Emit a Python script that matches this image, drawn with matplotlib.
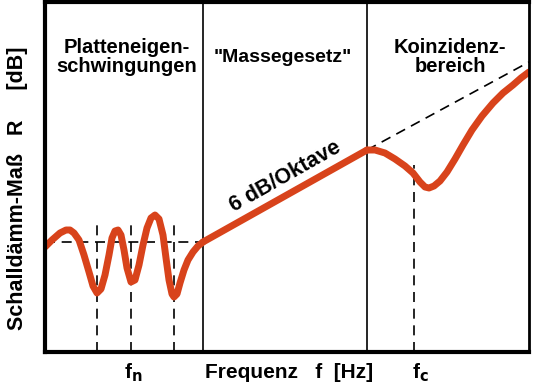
import matplotlib
matplotlib.use('Agg')
import matplotlib.pyplot as plt

plt.rcParams['font.family'] = ['Liberation Sans', 'DejaVu Sans']
plt.rcParams['font.weight'] = 'bold'

# curve points (x: frequency, y: level, arbitrary units)
plate_x = [0, 7, 15, 21, 25, 29, 34, 39, 44, 48, 52, 56, 60, 64, 67, 70, 73, 76, 79, 82,
           86, 90, 94, 98, 102, 106, 110, 114, 118, 121, 124, 127, 129, 132, 135, 139,
           143, 148, 153, 158]
plate_y = [105, 112, 119, 122, 122, 119, 112, 97, 80, 66, 59, 63, 77, 97, 114, 121,
           122, 117, 102, 84, 70, 72, 87, 107, 124, 134, 137, 133, 117, 94, 72, 58,
           55, 58, 69, 82, 92, 100, 106, 110]
mass_x = [158, 322]
mass_y = [110, 202]
coinc_x = [322, 330, 340, 350, 360, 368, 375, 380, 384, 389, 395, 402, 410, 418, 427,
           437, 448, 458, 468, 476, 484]
coinc_y = [202, 202, 199, 193, 186, 179, 170, 165, 164, 166, 171, 180, 193, 207, 222,
           236, 249, 259, 267, 274, 280]
mass_ext_x = [322, 484]
mass_ext_y = [202, 290]
ref_level = 110
fn_x = [52, 86, 129]
fc_x = [369]
dividers = [158, 322]
region_labels = ['Platteneigen-\nschwingungen', '"Massegesetz"', 'Koinzidenz-\nbereich']
region_x = [82, 238, 405]
region_size = [14.5, 14, 14.5]

red = '#d8431b'

fig = plt.figure(figsize=(5.33, 3.90), dpi=100)
ax = fig.add_axes([45 / 533, 38 / 390, 484 / 533, 350 / 390])
ax.set_xlim(0, 484)
ax.set_ylim(0, 350)
ax.set_xticks([])
ax.set_yticks([])
for side, lw in [('left', 3), ('bottom', 3), ('top', 3), ('right', 2)]:
    ax.spines[side].set_linewidth(lw)

for d in dividers:
    ax.axvline(d, color='black', lw=1.2)

dash = dict(color='black', lw=1.2, dashes=(6, 4))
ax.plot([0, dividers[0]], [ref_level, ref_level], **dash)
for x in fn_x:
    ax.plot([x, x], [0, 127], **dash)
for x in fc_x:
    ax.plot([x, x], [0, 187], **dash)
ax.plot(mass_ext_x, mass_ext_y, **dash)

kw = dict(color=red, lw=5, solid_capstyle='round', solid_joinstyle='round')
ax.plot(plate_x, plate_y, **kw)
ax.plot(mass_x, mass_y, **kw)
ax.plot(coinc_x, coinc_y, **kw)

for lab, x, fs in zip(region_labels, region_x, region_size):
    ax.text(x, 295, lab, ha='center', va='center', fontsize=fs, linespacing=1.0)

ax.text(240, 175, '6 dB/Oktave', ha='center', va='center', fontsize=15.5, rotation=29.5)

fig.text(18 / 533, 1 - 188 / 390, 'Schalldämm-Maß   R     [dB]', rotation=90,
         ha='center', va='center', fontsize=15.5)
fig.text(289 / 533, 1 - 373 / 390, 'Frequenz   f  [Hz]', ha='center', va='center', fontsize=15)
fig.text(133 / 533, 1 - 373 / 390, r'f$_\mathbf{n}$', ha='center', va='center', fontsize=15)
fig.text(420 / 533, 1 - 373 / 390, r'f$_\mathbf{c}$', ha='center', va='center', fontsize=15)

fig.savefig('out.png', dpi=100)
